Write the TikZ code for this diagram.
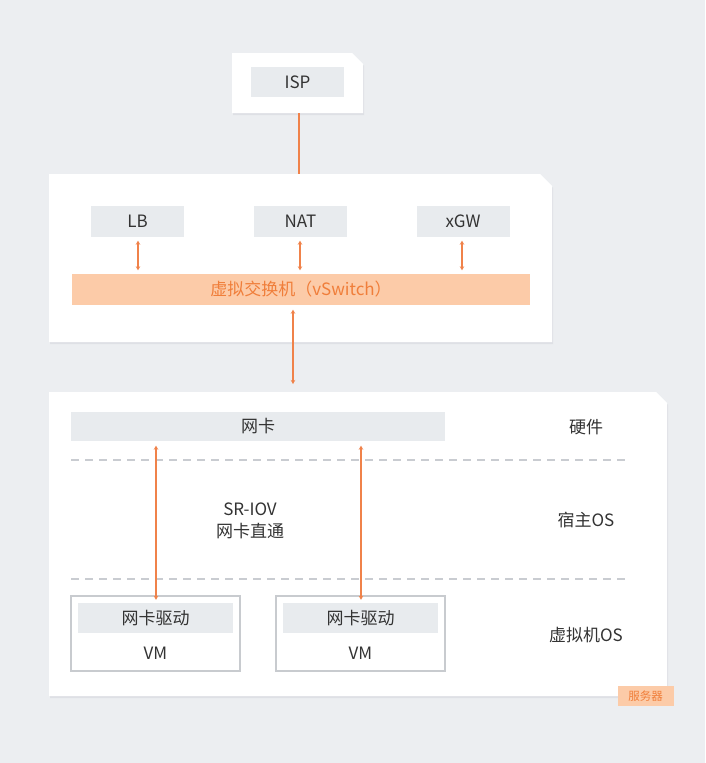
\documentclass[tikz,border=0pt]{standalone}
\usepackage{fontspec}
\setmainfont{Noto Sans CJK SC}
\usetikzlibrary{arrows.meta}
\definecolor{bg}{HTML}{ECEEF1}
\definecolor{boxgray}{HTML}{E8EBEE}
\definecolor{txt}{HTML}{333333}
\definecolor{arr}{HTML}{F0824A}
\definecolor{vsfill}{HTML}{FCCBA8}
\definecolor{vstxt}{HTML}{F07E3A}
\definecolor{dash}{HTML}{C9CCD1}
\definecolor{vmline}{HTML}{C8CBCF}
\definecolor{shade}{HTML}{D5D8DD}
\tikzset{
  graybox/.style={fill=boxgray, draw=none, text=txt, inner sep=0pt, font=\fontsize{17}{20}\selectfont},
  lbl/.style={text=txt, inner sep=0pt, font=\fontsize{17}{20}\selectfont, align=center},
  biarrow/.style={draw=arr, line width=1.3pt, {Stealth[length=4pt,width=4.5pt]}-{Stealth[length=4pt,width=4.5pt]}},
  plainline/.style={draw=arr, line width=1.3pt},
  vmbox/.style={draw=vmline, line width=1.2pt, fill=white},
  sepline/.style={draw=dash, line width=1.1pt, dash pattern=on 8pt off 6pt},
  container/.style={fill=white},
  cshadow/.style={fill=shade, opacity=0.6},
}
\begin{document}
\begin{tikzpicture}[x=1pt,y=-1pt]
\fill[bg] (0,0) rectangle (705,763);
\useasboundingbox (0,0) rectangle (705,763);
% containers (chamfered top-right corner)
\foreach \l/\t/\r/\b/\c in {232/53/363/113/11, 49/174/552/342/12, 49/392/667/696/11}{
  \fill[cshadow] (\l+1,\t+2) -- (\r-\c+1,\t+2) -- (\r+1,\t+\c+2) -- (\r+1,\b+2) -- (\l+1,\b+2) -- cycle;
  \fill[container] (\l,\t) -- (\r-\c,\t) -- (\r,\t+\c) -- (\r,\b) -- (\l,\b) -- cycle;
}
\coordinate (ispbot) at (299,113);
\coordinate (midtop) at (299,174);
\coordinate (srvtop) at (293,392);
\coordinate (xa) at (138,0);
\coordinate (xb) at (300,0);
\coordinate (xc) at (462,0);
\coordinate (xd) at (156,0);
\coordinate (xe) at (361,0);
% ISP
\node[graybox, minimum width=93, minimum height=30] (isp) at (297.5,82) {ISP};
% middle
\node[graybox, minimum width=93, minimum height=31] (lb) at (137.5,221) {LB};
\node[graybox, minimum width=93, minimum height=31] (nat) at (300.5,221) {NAT};
\node[graybox, minimum width=93, minimum height=31] (xgw) at (463,221) {xGW};
\node[fill=vsfill, text=vstxt, inner sep=0pt, minimum width=458, minimum height=31, font=\fontsize{17}{20}\selectfont] (vs) at (301,289) {虚拟交换机（vSwitch）};
\draw[plainline] (ispbot) -- (midtop);
\draw[biarrow, shorten <=4pt, shorten >=3pt] (lb.south -| xa) -- (vs.north -| xa);
\draw[biarrow, shorten <=4pt, shorten >=3pt] (nat.south -| xb) -- (vs.north -| xb);
\draw[biarrow, shorten <=4pt, shorten >=3pt] (xgw.south -| xc) -- (vs.north -| xc);
\draw[biarrow, shorten <=5pt, shorten >=8pt] (vs.south -| srvtop) -- (srvtop);
% server
\node[graybox, minimum width=374, minimum height=29] (nic) at (258,426) {网卡};
\coordinate (d1a) at (71,460); \coordinate (d1b) at (630,460);
\coordinate (d2a) at (71,579); \coordinate (d2b) at (630,579);
\draw[sepline] (d1a) -- (d1b);
\draw[sepline] (d2a) -- (d2b);
\node[lbl] (hw) at (586,427) {硬件};
\node[lbl] (host) at (586,520) {宿主OS};
\node[lbl] (guest) at (586,635) {虚拟机OS};
\node[lbl] (sriov) at (250,509) {SR-IOV};
\node[lbl] (direct) at (250,531) {网卡直通};
\node[vmbox, minimum width=169, minimum height=75, inner sep=0pt] (vm1) at (155.5,633.5) {};
\node[vmbox, minimum width=169, minimum height=75, inner sep=0pt] (vm2) at (360.5,633.5) {};
\node[graybox, minimum width=155, minimum height=30] (drv1) at (155.5,618) {网卡驱动};
\node[graybox, minimum width=155, minimum height=30] (drv2) at (360.5,618) {网卡驱动};
\node[lbl] (vmt1) at (155.5,653) {VM};
\node[lbl] (vmt2) at (360.5,653) {VM};
\draw[biarrow, shorten <=5pt, shorten >=3pt] (nic.south -| xd) -- (drv1.north -| xd);
\draw[biarrow, shorten <=5pt, shorten >=3pt] (nic.south -| xe) -- (drv2.north -| xe);
\node[fill=vsfill, text=vstxt, inner sep=0pt, minimum width=56, minimum height=20, font=\fontsize{11.5}{13}\selectfont] (srv) at (645.5,696) {服务器};
\end{tikzpicture}
\end{document}
